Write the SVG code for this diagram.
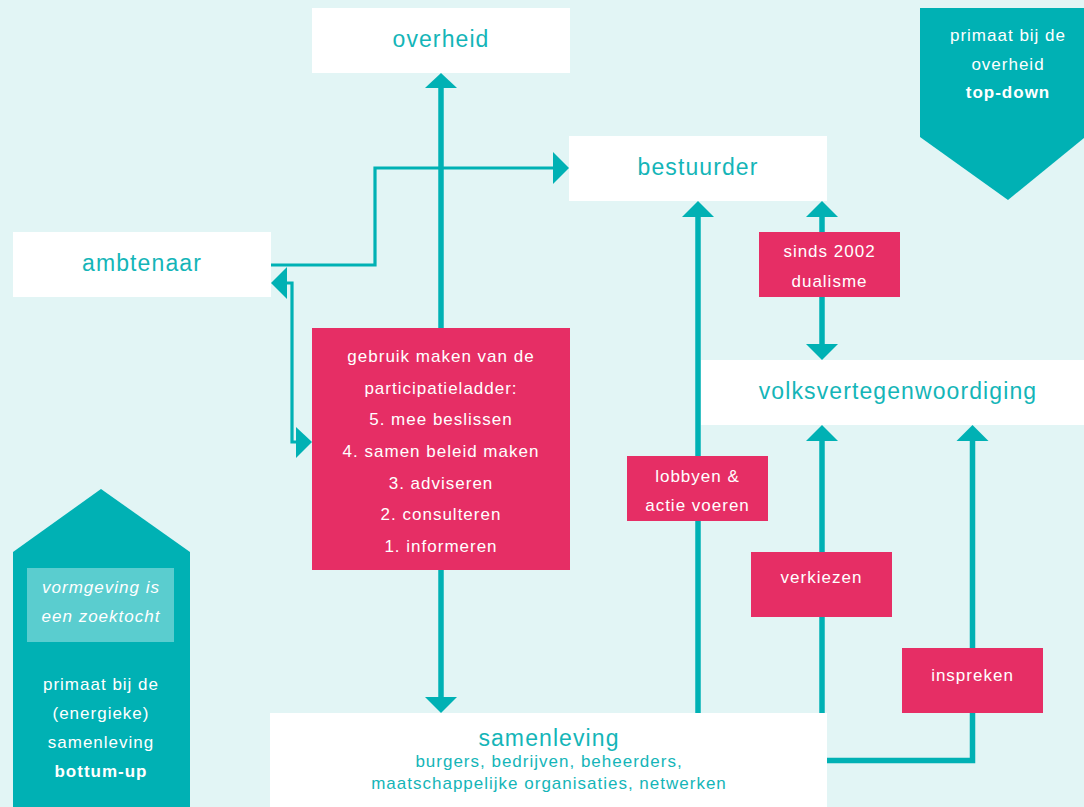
<svg xmlns="http://www.w3.org/2000/svg" width="1084" height="807" viewBox="0 0 1084 807">
  <defs>
    <style>
      .bg { fill: #E2F5F5; }
      .node { fill: #FFFFFF; }
      .label { fill: #E62E65; }
      .band { fill: #00B1B4; }
      .note { fill: #5ACDCF; }
      .title { font-family: "Liberation Sans", Arial, sans-serif; font-size: 23px; letter-spacing: 1.1px; fill: #14B5B8; text-anchor: middle; }
      .sub { font-family: "Liberation Sans", Arial, sans-serif; font-size: 17px; letter-spacing: 1px; fill: #14B5B8; text-anchor: middle; }
      .txt { font-family: "Liberation Sans", Arial, sans-serif; font-size: 17px; letter-spacing: 1px; fill: #FFFFFF; text-anchor: middle; }
      .bold { font-weight: bold; }
      .ital { font-style: italic; }
      .thick { fill: none; stroke: #00B1B4; stroke-width: 5.5; }
      .thin { fill: none; stroke: #00B1B4; stroke-width: 3.2; }
      .head { fill: #00B1B4; }
    </style>
  </defs>

  <rect class="bg" x="0" y="0" width="1084" height="807"/>

  <!-- side banners -->
  <g id="banner-top-down">
    <polygon class="band" points="920,8 1084,8 1084,138 1008,200 920,137"/>
    <text class="txt" x="1008" y="41">primaat bij de</text>
    <text class="txt" x="1008" y="70">overheid</text>
    <text class="txt bold" x="1008" y="98">top-down</text>
  </g>

  <g id="banner-bottom-up">
    <polygon class="band" points="13,552 101,489 190,552 190,807 13,807"/>
    <rect class="note" x="27" y="568" width="147" height="74"/>
    <text class="txt ital" x="101" y="593">vormgeving is</text>
    <text class="txt ital" x="101" y="622">een zoektocht</text>
    <text class="txt" x="101" y="690">primaat bij de</text>
    <text class="txt" x="101" y="719">(energieke)</text>
    <text class="txt" x="101" y="748">samenleving</text>
    <text class="txt bold" x="101" y="777">bottum-up</text>
  </g>

  <!-- connectors -->
  <g id="connectors">
    <!-- ladder up to overheid, down to samenleving -->
    <line class="thick" x1="441" y1="86" x2="441" y2="330"/>
    <polygon class="head" points="425,88 457,88 441,73"/>
    <line class="thick" x1="441" y1="568" x2="441" y2="699"/>
    <polygon class="head" points="425,697 457,697 441,713"/>

    <!-- ambtenaar to bestuurder -->
    <polyline class="thin" points="271,265 375,265 375,168 555,168"/>
    <polygon class="head" points="553,152 553,184 569,168"/>

    <!-- ambtenaar <-> ladder -->
    <polyline class="thin" points="285,283 292,283 292,442 298,442"/>
    <polygon class="head" points="287,267 287,299 271,283"/>
    <polygon class="head" points="296,427 296,458 312,442"/>

    <!-- samenleving to bestuurder (lobbyen) -->
    <line class="thick" x1="698" y1="713" x2="698" y2="215"/>
    <polygon class="head" points="682,217 714,217 698,201"/>

    <!-- bestuurder <-> volksvertegenwoordiging -->
    <line class="thick" x1="822" y1="215" x2="822" y2="346"/>
    <polygon class="head" points="806,217 838,217 822,201"/>
    <polygon class="head" points="806,344 838,344 822,360"/>

    <!-- samenleving to volksvertegenwoordiging (verkiezen) -->
    <line class="thick" x1="822" y1="713" x2="822" y2="439"/>
    <polygon class="head" points="806,441 838,441 822,425"/>

    <!-- samenleving to volksvertegenwoordiging (inspreken) -->
    <polyline class="thick" points="827,760.5 972.5,760.5 972.5,439"/>
    <polygon class="head" points="956.5,441 988.5,441 972.5,425"/>
  </g>

  <!-- nodes -->
  <g id="overheid">
    <rect class="node" x="312" y="8" width="258" height="65"/>
    <text class="title" x="441" y="47">overheid</text>
  </g>

  <g id="bestuurder">
    <rect class="node" x="569" y="136" width="258" height="65"/>
    <text class="title" x="698" y="175">bestuurder</text>
  </g>

  <g id="ambtenaar">
    <rect class="node" x="13" y="232" width="258" height="65"/>
    <text class="title" x="142" y="271">ambtenaar</text>
  </g>

  <g id="volksvertegenwoordiging">
    <rect class="node" x="701" y="360" width="383" height="65"/>
    <text class="title" x="898" y="399">volksvertegenwoordiging</text>
  </g>

  <g id="samenleving">
    <rect class="node" x="270" y="713" width="557" height="94"/>
    <text class="title" x="549" y="746">samenleving</text>
    <text class="sub" x="549" y="767">burgers, bedrijven, beheerders,</text>
    <text class="sub" x="549" y="789">maatschappelijke organisaties, netwerken</text>
  </g>

  <g id="participatieladder">
    <rect class="label" x="312" y="328" width="258" height="242"/>
    <text class="txt" x="441" y="362">gebruik maken van de</text>
    <text class="txt" x="441" y="394">participatieladder:</text>
    <text class="txt" x="441" y="425">5. mee beslissen</text>
    <text class="txt" x="441" y="457">4. samen beleid maken</text>
    <text class="txt" x="441" y="489">3. adviseren</text>
    <text class="txt" x="441" y="520">2. consulteren</text>
    <text class="txt" x="441" y="552">1. informeren</text>
  </g>

  <g id="dualisme">
    <rect class="label" x="759" y="232" width="141" height="65"/>
    <text class="txt" x="829.5" y="257">sinds 2002</text>
    <text class="txt" x="829.5" y="287">dualisme</text>
  </g>

  <g id="lobbyen">
    <rect class="label" x="627" y="456" width="141" height="65"/>
    <text class="txt" x="697.5" y="482">lobbyen &amp;</text>
    <text class="txt" x="697.5" y="511">actie voeren</text>
  </g>

  <g id="verkiezen">
    <rect class="label" x="751" y="552" width="141" height="65"/>
    <text class="txt" x="821.5" y="583">verkiezen</text>
  </g>

  <g id="inspreken">
    <rect class="label" x="902" y="648" width="141" height="65"/>
    <text class="txt" x="972.5" y="681">inspreken</text>
  </g>
</svg>
